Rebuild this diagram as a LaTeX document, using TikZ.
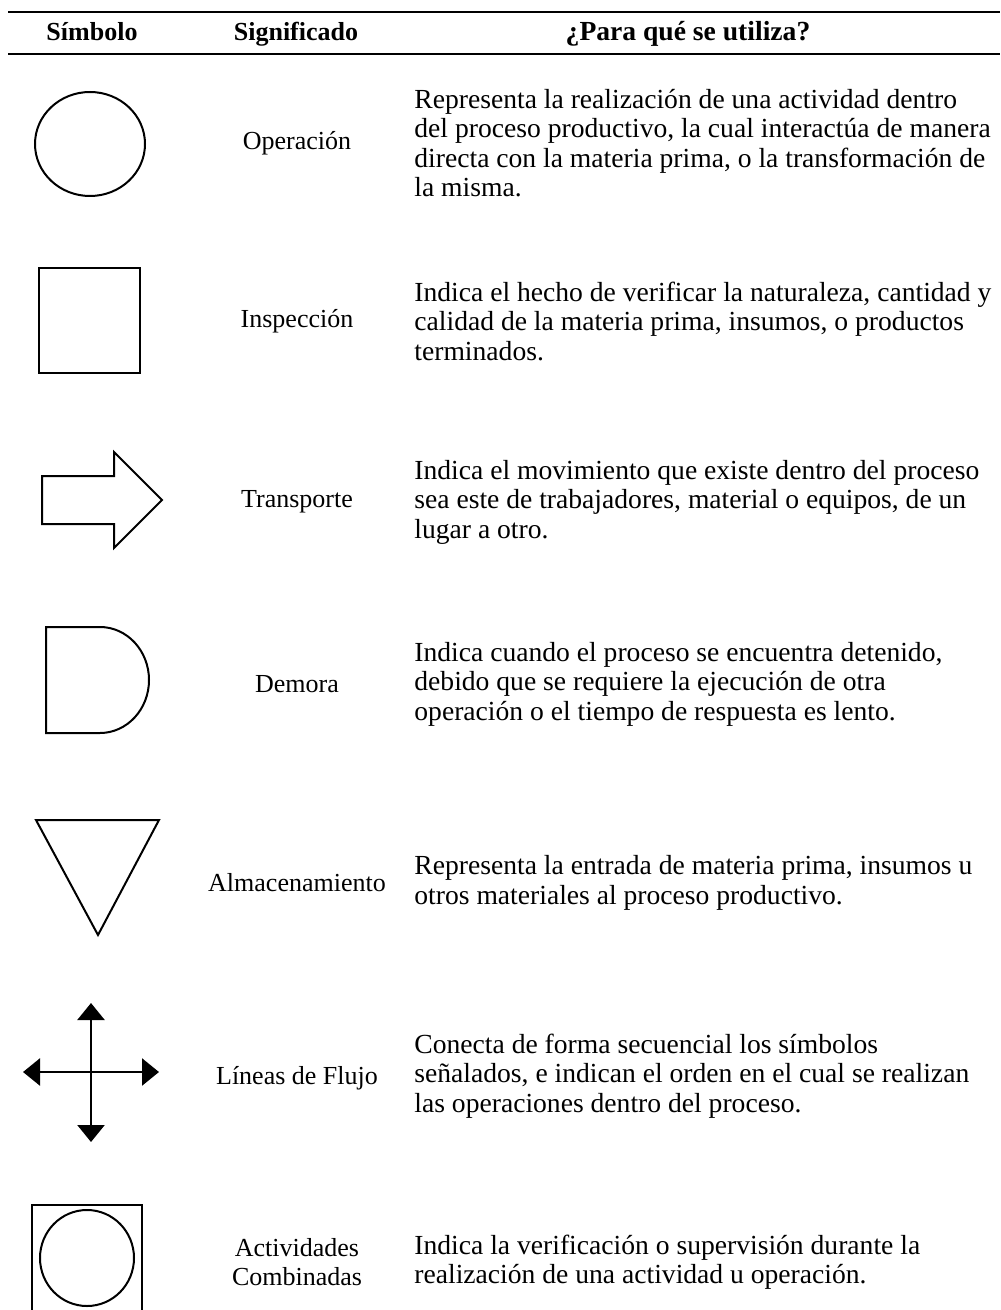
\documentclass[tikz,border=0pt]{standalone}
\usepackage{fontspec}
\setmainfont{Liberation Serif}
\usetikzlibrary{arrows.meta}
\begin{document}
\begin{tikzpicture}[x=0.5pt,y=-0.5pt,every node/.style={inner sep=0pt,font=\fontsize{13pt}{14.75pt}\selectfont},
  encab/.style={anchor=base,font=\fontsize{13pt}{14.75pt}\selectfont\bfseries},
  signif/.style={align=center},
  uso/.style={anchor=west,align=left,font=\fontsize{13.8pt}{14.75pt}\selectfont},
  figura/.style={line width=1pt},
  flujo/.style={line width=1.2pt,-{Triangle[length=8.5pt,width=13.5pt]}}]
  \useasboundingbox (0,0) rectangle (1000,1310);
  \draw[line width=1.3pt] (8,12) -- (1000,12);
  \draw[line width=1.3pt] (8,54) -- (1000,54);
  \node[encab] (hSimb) at (92,41) {Símbolo};
  \node[encab] (hSig) at (296,41) {Significado};
  \node[encab,font=\fontsize{13.8pt}{14.75pt}\selectfont\bfseries] (hUso) at (688,41) {¿Para qué se utiliza?};

  \draw[figura] (90,144) ellipse [x radius=55,y radius=52];
  \node[signif] (sOper) at (297,143) {Operación};
  \node[uso] (uOper) at (414,143) {Representa la realización de una actividad dentro\\del proceso productivo, la cual interactúa de manera\\directa con la materia prima, o la transformación de\\la misma.};

  \draw[line width=1.4pt] (39,268) rectangle (140,373);
  \node[signif] (sInsp) at (297,321) {Inspección};
  \node[uso] (uInsp) at (414,321) {Indica el hecho de verificar la naturaleza, cantidad y\\calidad de la materia prima, insumos, o productos\\terminados.};

  \draw[figura] (42,476) -- (114,476) -- (114,452) -- (162,500) -- (114,548) -- (114,524) -- (42,524) -- cycle;
  \node[signif] (sTrans) at (297,502) {Transporte};
  \node[uso] (uTrans) at (414,502) {Indica el movimiento que existe dentro del proceso\\sea este de trabajadores, material o equipos, de un\\lugar a otro.};

  \draw[figura] (46,627) -- (100,627) arc[start angle=-90,end angle=90,x radius=49,y radius=53] -- (46,733) -- cycle;
  \node[signif] (sDem) at (297,684) {Demora};
  \node[uso] (uDem) at (414,684) {Indica cuando el proceso se encuentra detenido,\\debido que se requiere la ejecución de otra\\operación o el tiempo de respuesta es lento.};

  \draw[figura] (36,820) -- (159,820) -- (98,935) -- cycle;
  \node[signif] (sAlm) at (297,883) {Almacenamiento};
  \node[uso] (uAlm) at (414,883) {Representa la entrada de materia prima, insumos u\\otros materiales al proceso productivo.};

  \coordinate (cruz) at (91,1072);
  \coordinate (cArr) at (91,1003);
  \coordinate (cAba) at (91,1142);
  \coordinate (cIzq) at (23,1072);
  \coordinate (cDer) at (159,1072);
  \draw[flujo] (cruz) -- (cArr);
  \draw[flujo] (cruz) -- (cAba);
  \draw[flujo] (cruz) -- (cIzq);
  \draw[flujo] (cruz) -- (cDer);
  \node[signif] (sFlu) at (297,1078) {Líneas de Flujo};
  \node[uso] (uFlu) at (414,1076) {Conecta de forma secuencial los símbolos\\señalados, e indican el orden en el cual se realizan\\las operaciones dentro del proceso.};

  \draw[line width=1.4pt] (32,1320) |- (142,1205) -- (142,1320);
  \draw[figura] (87,1258) ellipse [x radius=47,y radius=48];
  \node[signif] (sComb) at (297,1262) {Actividades\\Combinadas};
  \node[uso] (uComb) at (414,1262) {Indica la verificación o supervisión durante la\\realización de una actividad u operación.};
\end{tikzpicture}
\end{document}
